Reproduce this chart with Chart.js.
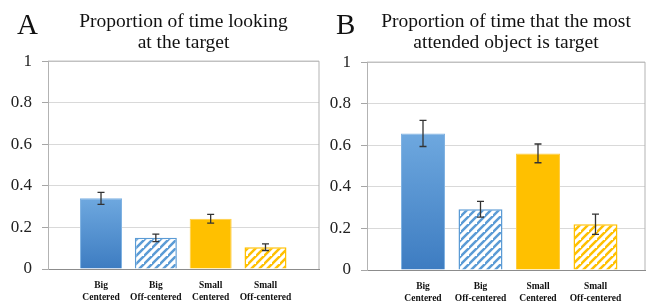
<!DOCTYPE html>
<html>
<head>
<meta charset="utf-8">
<script src="https://cdn.jsdelivr.net/npm/chart.js@4/dist/chart.umd.min.js"></script>
<style>
  html, body { margin: 0; padding: 0; background: #fff; }
  #wrap { position: relative; width: 651px; height: 304px; overflow: hidden; }
  .panel { position: absolute; top: 0; height: 304px; }
  .letter { position: absolute; font-family: "Liberation Serif", "Times New Roman", serif; font-size: 29px; line-height: 29px; color: #111; }
</style>
</head>
<body>
<div id="wrap">
  <div class="panel" style="left:0;width:325px;"><canvas id="cA"></canvas></div>
  <div class="panel" style="left:325px;width:326px;"><canvas id="cB"></canvas></div>
  <div class="letter" style="left:17px;top:10px;">A</div>
  <div class="letter" style="left:336px;top:10px;">B</div>
</div>
<script>
// ---- data ----
const categories = [['Big', 'Centered'], ['Big', 'Off-centered'], ['Small', 'Centered'], ['Small', 'Off-centered']];
const yTicks = [0, 0.2, 0.4, 0.6, 0.8, 1];
const titleA = ['Proportion of time looking', 'at the target'];
const titleB = ['Proportion of time that the most', 'attended object is target'];
const valuesA = [0.34, 0.15, 0.242, 0.105];
const errorsA = [0.029, 0.018, 0.021, 0.016];
const valuesB = [0.657, 0.292, 0.561, 0.22];
const errorsB = [0.063, 0.038, 0.045, 0.049];

// ---- styles ----
const BLUE = '#5b9bd5';
const YELLOW = '#ffc000';
const SERIF = '"Liberation Serif", "Times New Roman", serif';

function hatch(color) {
  const s = 8;
  const c = document.createElement('canvas');
  c.width = s; c.height = s;
  const g = c.getContext('2d');
  g.fillStyle = '#ffffff';
  g.fillRect(0, 0, s, s);
  g.strokeStyle = color;
  g.lineWidth = 2.5;
  g.beginPath();
  g.moveTo(-1, s + 1); g.lineTo(s + 1, -1);
  g.moveTo(-1 - s, s + 1); g.lineTo(1, -1);
  g.moveTo(s - 1, 2 * s + 1); g.lineTo(2 * s + 1, s - 1);
  g.stroke();
  return g.createPattern(c, 'repeat');
}

function makeChart(id, values, errors, title, opts) {
  const ctx = document.getElementById(id).getContext('2d');
  const hatchBlue = hatch(BLUE);
  const hatchYellow = hatch(YELLOW);

  function fill(context) {
    const chart = context.chart;
    const i = context.dataIndex;
    if (i === 1) return hatchBlue;
    if (i === 3) return hatchYellow;
    if (i === 2) return YELLOW;
    const area = chart.chartArea;
    const ys = chart.scales && chart.scales.y;
    if (!area || !ys) return BLUE;
    const top = ys.getPixelForValue(values[i]);
    const bottom = ys.getPixelForValue(0);
    const gr = chart.ctx.createLinearGradient(0, top, 0, bottom);
    gr.addColorStop(0, '#6ea8df');
    gr.addColorStop(1, '#3d7cc1');
    return gr;
  }

  const errorPlugin = {
    id: 'errbars',
    afterDatasetsDraw(chart) {
      const meta = chart.getDatasetMeta(0);
      const ys = chart.scales.y;
      const g = chart.ctx;
      g.save();
      g.strokeStyle = '#333333';
      g.lineWidth = 1.3;
      meta.data.forEach((el, i) => {
        const x = el.x;
        const y1 = ys.getPixelForValue(values[i] + errors[i]);
        const y2 = ys.getPixelForValue(values[i] - errors[i]);
        g.beginPath();
        g.moveTo(x, y1); g.lineTo(x, y2);
        g.moveTo(x - 3.5, y1); g.lineTo(x + 3.5, y1);
        g.moveTo(x - 3.5, y2); g.lineTo(x + 3.5, y2);
        g.stroke();
      });
      g.restore();
    }
  };

  const framePlugin = {
    id: 'frame',
    beforeDatasetsDraw(chart) {
      const a = chart.chartArea;
      const g = chart.ctx;
      g.save();
      g.strokeStyle = '#b3b3b3';
      g.lineWidth = 1;
      g.beginPath();
      g.moveTo(a.left, a.top); g.lineTo(a.right, a.top); g.lineTo(a.right, a.bottom);
      g.stroke();
      g.restore();
    }
  };

  return new Chart(ctx, {
    type: 'bar',
    data: {
      datasets: [{
        data: values.map((v, i) => ({ x: i, y: v })),
        backgroundColor: fill,
        borderColor: (c) => (c.dataIndex < 2 ? (c.dataIndex === 0 ? '#7fb2e2' : BLUE) : (c.dataIndex === 2 ? '#ffcd40' : YELLOW)),
        borderWidth: (c) => (c.dataIndex % 2 === 1 ? 1.5 : 1),
        barPercentage: opts.barPct,
        categoryPercentage: 1
      }]
    },
    options: {
      responsive: true,
      maintainAspectRatio: false,
      animation: false,
      layout: { padding: { left: 0, right: 6, top: 0, bottom: 0 } },
      plugins: {
        legend: { display: false },
        tooltip: { enabled: false },
        title: {
          display: true,
          text: title,
          fullSize: false,
          color: '#111111',
          font: { family: SERIF, size: 19.5, weight: 'normal', lineHeight: 1.08 },
          padding: { top: 11, bottom: opts.titleBottom }
        }
      },
      scales: {
        x: {
          type: 'linear',
          offset: false,
          min: opts.xmin,
          max: opts.xmax,
          grid: { display: false, drawTicks: false, offset: false },
          border: { display: true, color: '#8c8c8c', width: 1 },
          afterBuildTicks: (s) => { s.ticks = categories.map((c, i) => ({ value: i })); },
          afterFit: (s) => { s.height = opts.xh; },
          ticks: {
            autoSkip: false,
            maxRotation: 0,
            minRotation: 0,
            padding: 10,
            color: '#111111',
            font: { family: SERIF, size: 9.5, weight: 'bold', lineHeight: 1.3 },
            callback: (v) => categories[v]
          }
        },
        y: {
          min: 0,
          max: 1,
          afterBuildTicks: (s) => { s.ticks = yTicks.map((v) => ({ value: v })); },
          afterFit: (s) => { s.width = opts.yw; },
          grid: { color: '#d9d9d9', tickColor: '#a6a6a6', tickLength: 6, lineWidth: 1 },
          border: { display: true, color: '#b3b3b3', width: 1 },
          ticks: {
            padding: 10,
            color: '#222222',
            font: { family: SERIF, size: 17 },
            callback: (v) => String(v)
          }
        }
      }
    },
    plugins: [framePlugin, errorPlugin]
  });
}

makeChart('cA', valuesA, errorsA, titleA, { xmin: -0.967, xmax: 3.976, yw: 48, xh: 35, titleBottom: 8, barPct: 0.766 });
makeChart('cB', valuesB, errorsB, titleB, { xmin: -0.974, xmax: 3.861, yw: 42, xh: 34, titleBottom: 9, barPct: 0.765 });
</script>
</body>
</html>
